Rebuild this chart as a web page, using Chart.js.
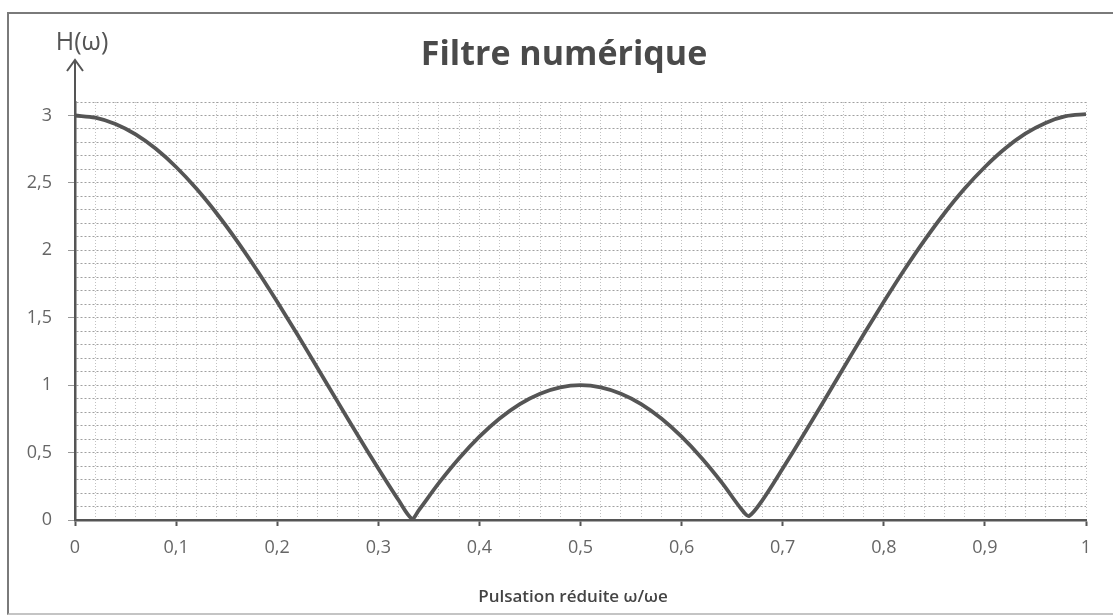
<!DOCTYPE html>
<html>
<head>
<meta charset="utf-8">
<script src="https://cdn.jsdelivr.net/npm/chart.js@4.4.1/dist/chart.umd.min.js"></script>
<style>
  html, body { margin: 0; padding: 0; background: #fff; overflow: hidden; }
  #frame {
    position: absolute; left: 7px; top: 12px;
    width: 1104px; height: 599px;
    border-left: 2px solid #7a7a7a; border-top: 2px solid #7a7a7a; border-bottom: 2px solid #c4c4c4;
  }
  #chart { display: block; }
</style>
</head>
<body>
<div id="frame"><canvas id="chart" width="1104" height="599"></canvas></div>
<script>
// pulsation réduite (x) and |H|
const xValues = [0, 0.02, 0.04, 0.06, 0.08, 0.1, 0.12, 0.14, 0.16, 0.18, 0.2, 0.22, 0.24, 0.26, 0.28, 0.3, 0.32, 0.3333,
  0.34, 0.36, 0.38, 0.4, 0.42, 0.44, 0.46, 0.48, 0.5, 0.52, 0.54, 0.56, 0.58, 0.6, 0.62, 0.64, 0.66, 0.6667,
  0.68, 0.7, 0.72, 0.74, 0.76, 0.78, 0.8, 0.82, 0.84, 0.86, 0.88, 0.9, 0.92, 0.94, 0.96, 0.98, 1];
const hValues = [3, 2.984, 2.937, 2.86, 2.753, 2.618, 2.458, 2.275, 2.072, 1.852, 1.618, 1.375, 1.126, 0.874, 0.625, 0.382, 0.148, 0.01,
  0.072, 0.275, 0.458, 0.618, 0.753, 0.86, 0.937, 0.984, 1, 0.984, 0.937, 0.86, 0.753, 0.618, 0.458, 0.275, 0.072, 0.03,
  0.148, 0.382, 0.625, 0.874, 1.126, 1.375, 1.618, 1.852, 2.072, 2.275, 2.458, 2.618, 2.755, 2.865, 2.945, 2.995, 3.01];

const xTickLabels = ['0', '0,1', '0,2', '0,3', '0,4', '0,5', '0,6', '0,7', '0,8', '0,9', '1'];
const yTickLabels = ['0', '0,5', '1', '1,5', '2', '2,5', '3'];

const near = (v, step) => Math.abs(v / step - Math.round(v / step)) < 1e-6;

const FONT = '"Open Sans", "DejaVu Sans", sans-serif';

// title, axis name, y axis arrow and H(ω) label
const annotations = {
  id: 'annotations',
  afterDraw(chart) {
    const { ctx, chartArea } = chart;
    const x = chart.scales.x.getPixelForValue(0);
    const tipY = 46;
    ctx.save();
    ctx.strokeStyle = '#555';
    ctx.lineWidth = 2;
    ctx.beginPath();
    ctx.moveTo(x, chartArea.top);
    ctx.lineTo(x, tipY);
    ctx.moveTo(x - 8, tipY + 11);
    ctx.lineTo(x, tipY);
    ctx.lineTo(x + 8, tipY + 11);
    ctx.stroke();

    ctx.textAlign = 'center';
    ctx.fillStyle = '#555';
    ctx.font = '25px ' + FONT;
    ctx.textBaseline = 'middle';
    ctx.fillText('H(ω)', x + 7, 29);

    ctx.fillStyle = '#4a4a4a';
    ctx.font = 'bold 34px ' + FONT;
    ctx.textBaseline = 'alphabetic';
    ctx.fillText('Filtre numérique', 555, 51);

    ctx.fillStyle = '#444';
    ctx.font = '600 17px ' + FONT;
    ctx.textBaseline = 'middle';
    ctx.fillText('Pulsation réduite ω/ωe', 564, 583);
    ctx.restore();
  }
};

new Chart(document.getElementById('chart'), {
  type: 'scatter',
  data: {
    datasets: [{
      data: xValues.map((x, i) => ({ x, y: hValues[i] })),
      showLine: true,
      borderColor: '#555',
      borderWidth: 3.8,
      pointRadius: 0,
      tension: 0.3
    }]
  },
  options: {
    responsive: false,
    animation: false,
    layout: { padding: { top: 88, right: 27, left: 0, bottom: 0 } },
    plugins: {
      legend: { display: false },
      tooltip: { enabled: false },
      title: { display: false }
    },
    scales: {
      x: {
        type: 'linear',
        min: 0,
        max: 1,
        afterFit: s => { s.height = 93; },
        ticks: {
          stepSize: 0.02,
          maxTicksLimit: 100,
          autoSkip: false,
          maxRotation: 0,
          padding: 11,
          color: '#666',
          font: { family: FONT, size: 18 },
          callback: v => near(v, 0.1) ? xTickLabels[Math.round(v * 10)] : ''
        },
        grid: {
          color: '#c2c2c2',
          lineWidth: 1,
          tickLength: 6,
          tickColor: ctx => ctx.tick && near(ctx.tick.value, 0.1) ? '#555' : 'transparent',
          tickWidth: 2
        },
        border: { color: '#555', width: 2.5, dash: [1, 2] }
      },
      y: {
        min: 0,
        max: 3.1,
        afterFit: s => { s.width = 66; },
        ticks: {
          stepSize: 0.1,
          maxTicksLimit: 100,
          autoSkip: false,
          padding: 16,
          color: '#666',
          font: { family: FONT, size: 18 },
          callback: v => near(v, 0.5) ? yTickLabels[Math.round(v * 2)] : ''
        },
        grid: {
          color: '#a0a0a0',
          lineWidth: 1,
          tickLength: 7,
          tickColor: ctx => ctx.tick && near(ctx.tick.value, 0.5) ? '#999' : 'transparent'
        },
        border: { color: '#555', width: 2.5, dash: [2, 2] }
      }
    }
  },
  plugins: [annotations]
});
</script>
</body>
</html>
